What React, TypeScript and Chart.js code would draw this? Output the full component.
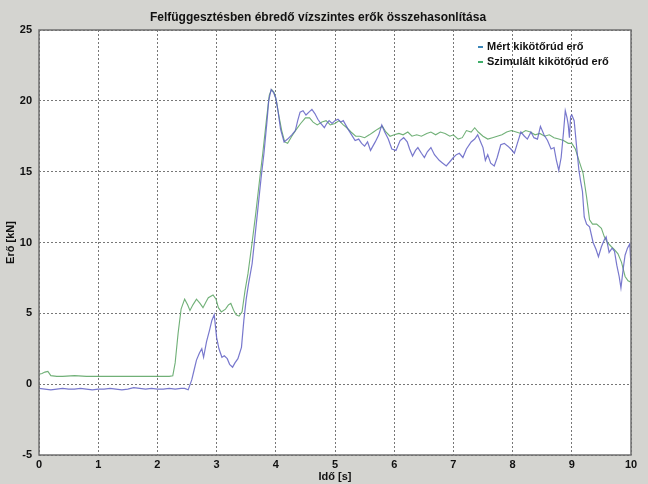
import React, { useEffect, useRef } from "react";
import { Chart, registerables } from "chart.js";

Chart.register(...registerables);

const chartTitle = "Felfüggesztésben ébredő vízszintes erők összehasonlítása";
const xAxisTitle = "Idő [s]";
const yAxisTitle = "Erő [kN]";
const seriesNames = ["Mért kikötőrúd erő", "Szimulált kikötőrúd erő"];
const xTicks = [0, 1, 2, 3, 4, 5, 6, 7, 8, 9, 10];
const yTicks = [-5, 0, 5, 10, 15, 20, 25];

const timeMeasured = [
  0, 0.1, 0.2, 0.3, 0.4, 0.5, 0.6, 0.7, 0.8, 0.9, 1.0, 1.1, 1.2, 1.3, 1.4, 1.5, 1.6, 1.7, 1.8, 1.9,
  2.0, 2.1, 2.2, 2.3, 2.4, 2.46, 2.52, 2.58, 2.62, 2.66, 2.71, 2.75, 2.78, 2.83, 2.88, 2.92, 2.96,
  3.0, 3.04, 3.09, 3.13, 3.18, 3.22, 3.27, 3.31, 3.36, 3.42, 3.46, 3.5, 3.54, 3.6, 3.65, 3.7, 3.75,
  3.8, 3.85, 3.88, 3.92, 3.96, 4.0, 4.04, 4.08, 4.14, 4.2, 4.27, 4.33, 4.37, 4.41, 4.46, 4.51, 4.56,
  4.61, 4.66, 4.71, 4.76, 4.82, 4.86, 4.9, 4.95, 5.0, 5.05, 5.1, 5.14, 5.18, 5.22, 5.28, 5.34, 5.4,
  5.45, 5.5, 5.55, 5.6, 5.64, 5.68, 5.74, 5.79, 5.84, 5.9, 5.96, 6.03, 6.1, 6.16, 6.22, 6.26, 6.31,
  6.36, 6.4, 6.46, 6.51, 6.56, 6.62, 6.68, 6.76, 6.82, 6.88, 6.94, 7.0, 7.05, 7.1, 7.16, 7.22, 7.3,
  7.36, 7.41, 7.46, 7.5, 7.54, 7.58, 7.63, 7.69, 7.74, 7.8, 7.86, 7.92, 7.97, 8.03, 8.08, 8.14, 8.2,
  8.25, 8.31, 8.36, 8.42, 8.47, 8.53, 8.59, 8.65, 8.7, 8.74, 8.78, 8.82, 8.86, 8.89, 8.92, 8.94,
  8.96, 8.98, 9.0, 9.04, 9.08, 9.12, 9.15, 9.18, 9.21, 9.25, 9.3, 9.36, 9.41, 9.45, 9.5, 9.55, 9.58,
  9.63, 9.68, 9.72, 9.76, 9.8, 9.83, 9.87, 9.9, 9.94, 9.98, 10.0,
];
const forceMeasured = [
  -0.3, -0.35, -0.4, -0.35, -0.3, -0.35, -0.35, -0.3, -0.35, -0.4, -0.35, -0.35, -0.3, -0.35, -0.4,
  -0.35, -0.25, -0.3, -0.35, -0.3, -0.35, -0.35, -0.3, -0.35, -0.3, -0.3, -0.4, 0.3, 1.0, 1.7, 2.2,
  2.5, 1.9, 3.0, 3.8, 4.5, 4.9, 3.3, 2.5, 1.9, 2.0, 1.8, 1.4, 1.2, 1.5, 1.8, 2.6, 4.5, 6.0, 7.1, 8.5,
  10.5, 12.5, 14.5, 16.3, 18.5, 20.0, 20.8, 20.6, 20.2, 19.2, 18.0, 17.1, 17.3, 17.6, 17.9, 18.6,
  19.2, 19.3, 19.0, 19.2, 19.4, 19.1, 18.7, 18.4, 18.1, 18.4, 18.6, 18.4, 18.6, 18.7, 18.5, 18.6,
  18.3, 18.0, 17.6, 17.2, 17.3, 17.0, 16.8, 17.1, 16.5, 16.8, 17.1, 17.6, 18.3, 17.8, 17.3, 16.6,
  16.5, 17.2, 17.4, 17.1, 16.6, 16.1, 16.5, 16.7, 16.3, 16.0, 16.4, 16.7, 16.2, 15.8, 15.6, 15.4,
  15.7, 16.0, 16.2, 16.3, 16.0, 16.6, 17.1, 17.3, 17.6, 17.1, 16.7, 15.8, 16.2, 15.6, 15.4, 16.0,
  16.9, 17.0, 16.8, 16.6, 16.3, 17.0, 17.8, 17.5, 17.3, 17.8, 17.4, 17.3, 18.2, 17.6, 17.2, 16.6,
  16.7, 15.8, 15.1, 16.0, 17.8, 19.3, 18.8, 18.3, 17.4, 18.9, 19.0, 18.6, 16.8, 15.1, 14.3, 13.6,
  11.8, 11.3, 11.1, 10.0, 9.5, 9.0, 9.7, 10.2, 10.4, 9.3, 9.6, 9.4, 8.4, 7.6, 6.8, 8.2, 9.1, 9.6,
  9.9, 8.3,
];

const timeSimulated = [
  0, 0.05, 0.1, 0.15, 0.2, 0.3, 0.4, 0.6, 0.8, 1.0, 1.2, 1.4, 1.6, 1.8, 2.0, 2.2, 2.26, 2.3, 2.35,
  2.4, 2.46, 2.51, 2.55, 2.6, 2.66, 2.72, 2.77, 2.82, 2.86, 2.94, 2.99, 3.03, 3.08, 3.15, 3.2, 3.24,
  3.29, 3.33, 3.38, 3.43, 3.48, 3.53, 3.6, 3.66, 3.72, 3.78, 3.84, 3.89, 3.93, 3.97, 4.01, 4.05,
  4.1, 4.15, 4.2, 4.27, 4.35, 4.42, 4.5, 4.57, 4.63, 4.7, 4.78, 4.85, 4.92, 5.0, 5.07, 5.14, 5.2,
  5.27, 5.35, 5.42, 5.5, 5.58, 5.65, 5.72, 5.8, 5.86, 5.93, 6.0, 6.08, 6.15, 6.23, 6.3, 6.38, 6.46,
  6.55, 6.62, 6.7, 6.78, 6.86, 6.94, 7.0, 7.08, 7.15, 7.22, 7.3, 7.36, 7.42, 7.5, 7.58, 7.66, 7.74,
  7.82, 7.9, 7.98, 8.06, 8.14, 8.22, 8.3, 8.38, 8.46, 8.54, 8.62, 8.7, 8.78, 8.86, 8.94, 9.0, 9.06,
  9.12, 9.19, 9.25, 9.3, 9.35, 9.42, 9.5, 9.55, 9.6, 9.67, 9.72, 9.78, 9.84, 9.9, 9.95, 10.0,
];
const forceSimulated = [
  0.7, 0.75, 0.85, 0.9, 0.6, 0.55, 0.55, 0.6, 0.55, 0.55, 0.55, 0.55, 0.55, 0.55, 0.55, 0.55, 0.6,
  1.5, 3.6, 5.3, 6.0, 5.6, 5.2, 5.6, 6.0, 5.7, 5.4, 5.8, 6.1, 6.3, 6.0, 5.4, 5.1, 5.3, 5.6, 5.7, 5.2,
  4.9, 4.8, 5.1, 6.6, 7.8, 10.0, 12.0, 14.2, 16.3, 18.6, 20.4, 20.8, 20.6, 20.0, 19.0, 17.9, 17.1,
  17.0, 17.5, 18.0, 18.4, 18.8, 18.8, 18.5, 18.3, 18.5, 18.6, 18.3, 18.4, 18.6, 18.3, 18.1, 17.8,
  17.5, 17.5, 17.4, 17.6, 17.8, 18.0, 18.2, 17.8, 17.5, 17.6, 17.7, 17.6, 17.8, 17.5, 17.6, 17.5,
  17.7, 17.8, 17.6, 17.8, 17.7, 17.5, 17.6, 17.3, 17.4, 17.9, 17.8, 18.1, 17.8, 17.5, 17.3, 17.4,
  17.5, 17.6, 17.8, 17.9, 17.8, 17.7, 17.9, 17.8, 17.6, 17.7, 17.5, 17.6, 17.4, 17.3, 17.2, 17.0,
  17.0, 16.6, 15.8, 14.9, 13.2, 11.6, 11.3, 11.3, 11.0, 10.4, 10.0, 9.7, 9.5, 9.2, 8.6, 7.6, 7.3,
  7.2,
];

const measuredColor = "rgba(96, 96, 196, 0.85)";
const simulatedColor = "rgba(104, 172, 112, 0.95)";
const legendDashColors = ["#3b86b8", "#3fae6a"];
const FONT = '"Liberation Sans", Arial, sans-serif';

export default function App() {
  const canvasRef = useRef<HTMLCanvasElement | null>(null);

  useEffect(() => {
    const canvas = canvasRef.current;
    if (!canvas) return;

    const decorPlugin = {
      id: "decor",
      beforeDraw(chart: any) {
        const { ctx, chartArea } = chart;
        ctx.save();
        ctx.fillStyle = "#d4d4d0";
        ctx.fillRect(0, 0, chart.width, chart.height);
        ctx.fillStyle = "#ffffff";
        ctx.fillRect(chartArea.left, chartArea.top, chartArea.right - chartArea.left, chartArea.bottom - chartArea.top);
        ctx.restore();
      },
      afterDraw(chart: any) {
        const { ctx, chartArea } = chart;
        ctx.save();
        ctx.strokeStyle = "#6f6f6f";
        ctx.lineWidth = 1.5;
        ctx.strokeRect(chartArea.left, chartArea.top, chartArea.right - chartArea.left, chartArea.bottom - chartArea.top);
        ctx.fillStyle = "#111";
        ctx.font = `bold 12px ${FONT}`;
        ctx.textAlign = "center";
        ctx.textBaseline = "middle";
        ctx.fillText(chartTitle, (chartArea.left + chartArea.right) / 2 - 17, 18);
        ctx.font = `bold 11px ${FONT}`;
        ctx.textAlign = "left";
        const lx = chartArea.right - 153;
        seriesNames.forEach((name, i) => {
          const y = chartArea.top + 17 + i * 15;
          ctx.strokeStyle = legendDashColors[i];
          ctx.lineWidth = 2;
          ctx.beginPath();
          ctx.moveTo(lx, y);
          ctx.lineTo(lx + 5, y);
          ctx.stroke();
          ctx.fillStyle = "#111";
          ctx.fillText(name, lx + 9, y);
        });
        ctx.restore();
      },
    };

    const chart = new Chart(canvas, {
      type: "line",
      data: {
        datasets: [
          {
            label: seriesNames[0],
            data: timeMeasured.map((t, i) => ({ x: t, y: forceMeasured[i] })),
            borderColor: measuredColor,
            borderWidth: 1.2,
            pointRadius: 0,
            tension: 0,
          },
          {
            label: seriesNames[1],
            data: timeSimulated.map((t, i) => ({ x: t, y: forceSimulated[i] })),
            borderColor: simulatedColor,
            borderWidth: 1.1,
            pointRadius: 0,
            tension: 0,
          },
        ],
      },
      options: {
        responsive: false,
        animation: false,
        layout: { padding: { top: 30, right: 17, left: 0, bottom: 0 } },
        plugins: {
          legend: { display: false },
          title: { display: false },
          tooltip: { enabled: false },
        },
        scales: {
          x: {
            type: "linear",
            min: 0,
            max: 10,
            afterBuildTicks: (scale: any) => {
              scale.ticks = xTicks.map((v) => ({ value: v }));
            },
            afterFit: (scale: any) => {
              scale.height = 29;
            },
            ticks: {
              color: "#111",
              font: { family: FONT, size: 11, weight: "bold" },
              padding: 3,
              maxRotation: 0,
            },
            grid: { color: "#777", lineWidth: 1, drawTicks: false },
            border: { display: false, dash: [2, 2] },
            title: {
              display: true,
              text: xAxisTitle,
              color: "#111",
              font: { family: FONT, size: 11, weight: "bold" },
              padding: { top: 0, bottom: 0 },
            },
          },
          y: {
            type: "linear",
            min: -5,
            max: 25,
            afterBuildTicks: (scale: any) => {
              scale.ticks = yTicks.map((v) => ({ value: v }));
            },
            afterFit: (scale: any) => {
              scale.width = 39;
            },
            ticks: {
              color: "#111",
              font: { family: FONT, size: 11, weight: "bold" },
              padding: 7,
            },
            grid: { color: "#777", lineWidth: 1, drawTicks: false },
            border: { display: false, dash: [2, 2] },
            title: {
              display: true,
              text: yAxisTitle,
              color: "#111",
              font: { family: FONT, size: 11, weight: "bold" },
              padding: { top: 4, bottom: 0 },
            },
          },
        },
      },
      plugins: [decorPlugin],
    });

    return () => chart.destroy();
  }, []);

  return (
    <div style={{ position: "absolute", left: 0, top: 0, width: 648, height: 484 }}>
      <canvas ref={canvasRef} width={648} height={484} style={{ display: "block" }} />
    </div>
  );
}
